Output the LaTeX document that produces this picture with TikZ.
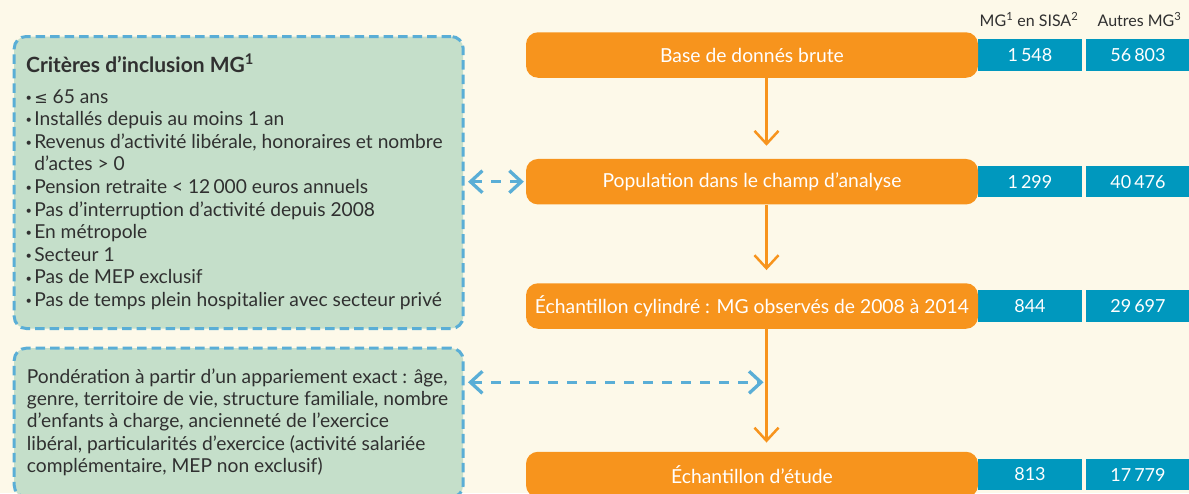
\documentclass[tikz,border=0pt]{standalone}
\usepackage{fontspec}
\setmainfont{Lato}
\newfontfamily\symf{DejaVu Sans}
\usetikzlibrary{arrows.meta}
\definecolor{bgc}{HTML}{FDF9E9}
\definecolor{grn}{HTML}{C5DFCA}
\definecolor{dblue}{HTML}{5AAED6}
\definecolor{org}{HTML}{F7941D}
\definecolor{cellc}{HTML}{0098BE}
\definecolor{txt}{HTML}{303030}
\newcommand\bul{\makebox[8.6pt][l]{\raisebox{1.8pt}{\fontsize{11}{11}\selectfont •}}}
\begin{document}
\begin{tikzpicture}[x=1pt,y=-1pt,
  gbox/.style={draw=dblue, fill=grn, line width=3pt, dash pattern=on 9.5pt off 5pt, rounded corners=12pt, anchor=north west, minimum width=449pt, inner sep=0pt},
  obox/.style={fill=org, rounded corners=12pt, minimum width=452pt, minimum height=45.5pt, text=white, font=\fontsize{19.3}{20}\selectfont, inner sep=0pt},
  cell/.style={fill=cellc, minimum width=104pt, minimum height=31.4pt, text=white, font=\fontsize{18}{18}\selectfont, inner sep=0pt},
  hdr/.style={text=txt, font=\fontsize{16}{16}\selectfont, anchor=base, inner sep=0pt},
  ltxt/.style={text=txt, font=\fontsize{19.2}{22}\selectfont, anchor=base west, inner sep=0pt},
  oarrow/.style={draw=org, line width=2.5pt, -{Straight Barb[length=13pt,width=24pt]}},
  barrow/.style={draw=dblue, line width=3.3pt, dash pattern=on 10pt off 9pt, {Straight Barb[length=12pt,width=22pt]}-{Straight Barb[length=12pt,width=22pt]}}
]
\useasboundingbox (0,0) rectangle (1189,493);
\clip (0,0) rectangle (1189,493);
\fill[bgc] (0,0) rectangle (1189,493);

% left boxes
\node[gbox, minimum height=292pt] (crit) at (12.7,35) {};
\node[gbox, minimum height=149pt] (pond) at (12.7,346.7) {};

\node[text=txt, font=\bfseries\fontsize{21}{21}\selectfont, anchor=base west, inner sep=0pt] (title) at (26,72.3) {Critères d’inclusion MG\textsuperscript{1}};
\node[ltxt] (l1) at (25.5,103.1) {\bul{\symf\fontsize{16}{16}\selectfont ≤} 65 ans};
\node[ltxt] (l2) at (25.5,125.7) {\bul Installés depuis au moins 1 an};
\node[ltxt] (l3) at (25.5,148.3) {\bul Revenus d’activité libérale, honoraires et nombre};
\node[ltxt] (l4) at (34.1,170.9) {d’actes > 0};
\node[ltxt] (l5) at (25.5,193.5) {\bul Pension retraite < 12\,000 euros annuels};
\node[ltxt] (l6) at (25.5,216.1) {\bul Pas d’interruption d’activité depuis 2008};
\node[ltxt] (l7) at (25.5,238.7) {\bul En métropole};
\node[ltxt] (l8) at (25.5,261.3) {\bul Secteur 1};
\node[ltxt] (l9) at (25.5,283.9) {\bul Pas de MEP exclusif};
\node[ltxt] (l10) at (25.5,306.5) {\bul Pas de temps plein hospitalier avec secteur privé};

\node[ltxt] (p1) at (26.7,383.3) {Pondération à partir d’un appariement exact : âge,};
\node[ltxt] (p2) at (26.7,405.6) {genre, territoire de vie, structure familiale, nombre};
\node[ltxt] (p3) at (26.7,427.9) {d’enfants à charge, ancienneté de l’exercice};
\node[ltxt] (p4) at (26.7,450.2) {libéral, particularités d’exercice (activité salariée};
\node[ltxt] (p5) at (26.7,472.5) {complémentaire, MEP non exclusif)};

% headers
\node[hdr] (h1) at (1029,26.7) {MG\textsuperscript{1} en SISA\textsuperscript{2}};
\node[hdr] (h2) at (1139.5,26.7) {Autres MG\textsuperscript{3}};

% cells
\node[cell] (c1a) at (1030,55) {1\,548};
\node[cell] (c1b) at (1138,55) {56\,803};
\node[cell] (c2a) at (1030,181.7) {1\,299};
\node[cell] (c2b) at (1138,181.7) {40\,476};
\node[cell] (c3a) at (1030,306) {844};
\node[cell] (c3b) at (1138,306) {29\,697};
\node[cell] (c4a) at (1030,474.5) {813};
\node[cell] (c4b) at (1138,474.5) {17\,779};

% orange boxes
\node[obox] (base) at (752,55) {Base de donnés brute};
\node[obox] (pop) at (752,181.7) {Population dans le champ d’analyse};
\node[obox] (cyl) at (752,306) {Échantillon cylindré : MG observés de 2008 à 2014};
\node[obox] (etu) at (752,474.5) {Échantillon d’étude};

% connectors
\coordinate (spine) at (766.5,0);
\coordinate (m) at (766.5,382.3);
\draw[oarrow, shorten >=13pt] (base.south -| spine) -- (pop.north -| spine);
\draw[oarrow, shorten >=13pt] (pop.south -| spine) -- (cyl.north -| spine);
\draw[oarrow, shorten >=9pt] (cyl.south -| spine) -- (etu.north -| spine);
\draw[barrow, shorten <=3.3pt, shorten >=2pt] (crit.east |- pop.west) -- (pop.west);
\draw[barrow, shorten <=3.3pt, shorten >=3pt] (pond.east |- m) -- (m);
\end{tikzpicture}
\end{document}
